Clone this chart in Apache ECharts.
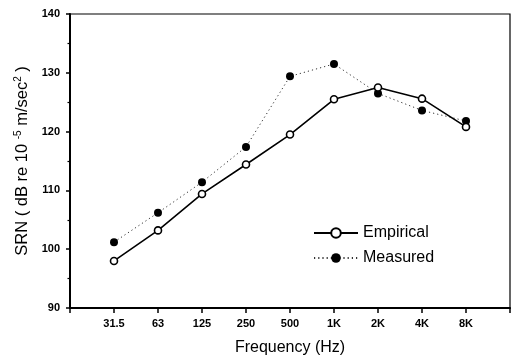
<!DOCTYPE html>
<html>
<head>
<meta charset="utf-8">
<script src="https://cdn.jsdelivr.net/npm/echarts@6/dist/echarts.min.js"></script>
<style>html,body{margin:0;padding:0;background:#fff;}#c{width:511px;height:357px;}</style>
</head>
<body>
<div id="c"></div>
<script>
const categories = ['31.5', '63', '125', '250', '500', '1K', '2K', '4K', '8K'];
const empirical = [98.0, 103.2, 109.4, 114.4, 119.5, 125.5, 127.5, 125.6, 120.8];
const measured = [101.2, 106.2, 111.4, 117.4, 129.4, 131.5, 126.5, 123.6, 121.8];
const yTicks = [90, 100, 110, 120, 130, 140];

const FONT = '"Liberation Sans", Arial, Helvetica, sans-serif';
const chart = echarts.init(document.getElementById('c'), null, {renderer: 'canvas'});
chart.setOption({
  backgroundColor: '#fff',
  animation: false,
  textStyle: {fontFamily: FONT, color: '#000'},
  grid: {left: 70, right: 1, top: 14, bottom: 49, show: true, borderColor: '#000', borderWidth: 1.2,
         containLabel: false, outerBoundsMode: 'none'},
  legend: {
    orient: 'vertical', left: 308, top: 220, itemWidth: 44, itemHeight: 12, itemGap: 9,
    textStyle: {fontSize: 16, color: '#000', fontFamily: FONT},
    data: ['Empirical', 'Measured']
  },
  xAxis: {
    type: 'value', min: -1, max: 9, interval: 1,
    name: 'Frequency (Hz)', nameLocation: 'middle', nameGap: 32,
    nameTextStyle: {fontSize: 16, color: '#000', fontFamily: FONT},
    axisLine: {show: true, onZero: false, lineStyle: {color: '#000', width: 2}},
    axisTick: {show: true, length: 5, lineStyle: {color: '#000', width: 1.5}},
    splitLine: {show: false},
    axisLabel: {
      margin: 10, fontSize: 11, fontWeight: 'bold', color: '#000', fontFamily: FONT,
      formatter: v => (v >= 0 && v < categories.length) ? categories[v] : ''
    }
  },
  yAxis: {
    type: 'value', min: yTicks[0], max: yTicks[yTicks.length - 1], interval: 10,
    name: 'SRN ( dB re 10 {sup|-5} m/sec{sup|2} )', nameLocation: 'middle', nameGap: 36, nameRotate: 90,
    nameTextStyle: {
      fontSize: 16.5, color: '#000', fontFamily: FONT,
      rich: {sup: {fontSize: 10, verticalAlign: 'top', padding: [0, 0, 8, 0], color: '#000', fontFamily: FONT}}
    },
    axisLine: {show: true, onZero: false, lineStyle: {color: '#000', width: 2}},
    axisTick: {show: true, length: 4, lineStyle: {color: '#000', width: 1.5}},
    minorTick: {show: true, splitNumber: 2, length: 2.5, lineStyle: {color: '#000', width: 1.2}},
    splitLine: {show: false},
    axisLabel: {margin: 10, fontSize: 11, fontWeight: 'bold', color: '#000', fontFamily: FONT}
  },
  series: [
    {
      name: 'Empirical', type: 'line',
      data: empirical.map((v, i) => [i, v]),
      symbol: 'circle', symbolSize: 7, showSymbol: true,
      lineStyle: {color: '#000', width: 1.6},
      itemStyle: {color: '#fff', borderColor: '#000', borderWidth: 1.6},
      z: 3
    },
    {
      name: 'Measured', type: 'line',
      data: measured.map((v, i) => [i, v]),
      symbol: 'circle', symbolSize: 8, showSymbol: true,
      lineStyle: {color: '#333', width: 1, type: [1.2, 3]},
      itemStyle: {color: '#000', borderColor: '#000', borderWidth: 0},
      z: 2
    }
  ]
});
</script>
</body>
</html>
